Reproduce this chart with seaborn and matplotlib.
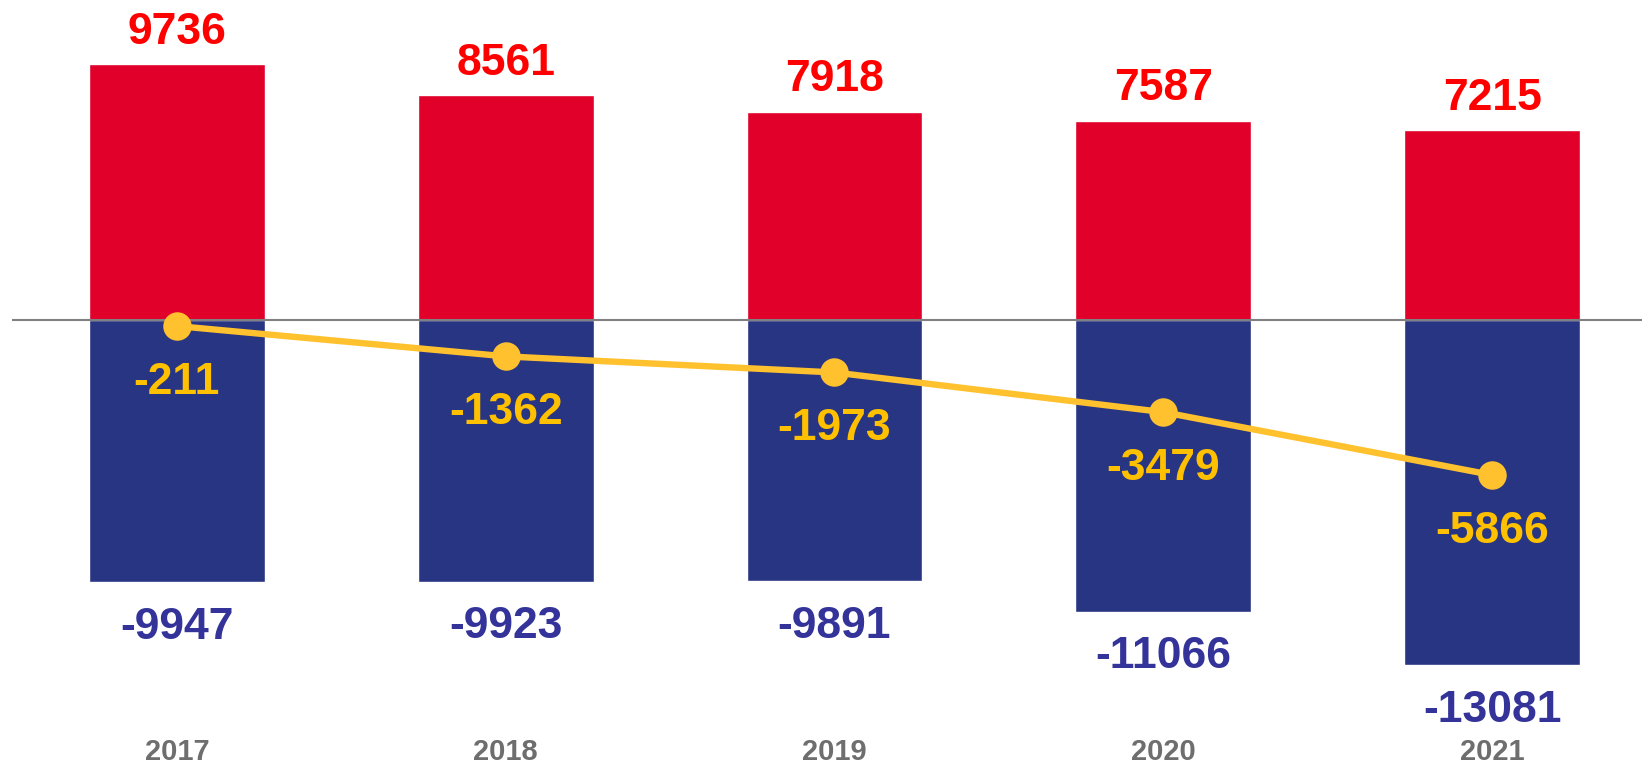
import numpy as np
import pandas as pd
import matplotlib
matplotlib.use("Agg")
import matplotlib.pyplot as plt
import seaborn as sns

# datos
anios = ["2017", "2018", "2019", "2020", "2021"]
positivos = [9736, 8561, 7918, 7587, 7215]
negativos = [-9947, -9923, -9891, -11066, -13081]
saldo = [-211, -1362, -1973, -3479, -5866]

ROJO = "#E1002A"
AZUL = "#283583"
AMARILLO = "#FFC12E"

sns.set_style("white")
plt.rcParams["font.family"] = ["Liberation Sans", "DejaVu Sans"]

fig = plt.figure(figsize=(16.42, 7.67), dpi=100)
ax = fig.add_axes([0, 0, 1, 1])

df = pd.DataFrame({"anio": anios, "pos": positivos, "neg": negativos})
sns.barplot(data=df, x="anio", y="pos", order=anios, color=ROJO, width=0.535,
            saturation=1, ax=ax)
sns.barplot(data=df, x="anio", y="neg", order=anios, color=AZUL, width=0.535,
            saturation=1, ax=ax)

ax.hlines(0, -0.502, 4.5, color="#808080", linewidth=1.5, zorder=3)

pos_x = np.arange(len(anios))
sns.lineplot(x=pos_x, y=saldo, color=AMARILLO, linewidth=4.6, marker="o",
             markersize=20.5, markeredgewidth=0, sort=False, ax=ax, zorder=4)

# etiquetas
for i in range(len(anios)):
    ax.annotate(str(positivos[i]), (i, positivos[i]), xytext=(0, 32),
                textcoords="offset pixels", ha="center", va="center",
                fontsize=32, fontweight="bold", color="#FF0000")
    ax.annotate(str(negativos[i]), (i, negativos[i]), xytext=(0, -45),
                textcoords="offset pixels", ha="center", va="center",
                fontsize=32, fontweight="bold", color="#333399")
    ax.annotate(str(saldo[i]), (i, saldo[i]), xytext=(0, -56),
                textcoords="offset pixels", ha="center", va="center",
                fontsize=32, fontweight="bold", color="#FFC000", zorder=5)
    ax.text(i, -16382, anios[i], ha="center", va="center", fontsize=21,
            fontweight="bold", color="#6E6E6E")

ax.set_xlim(-0.538, 4.456)
ax.set_ylim(-16952, 12168)
ax.axis("off")

fig.savefig("out.png", dpi=100)
